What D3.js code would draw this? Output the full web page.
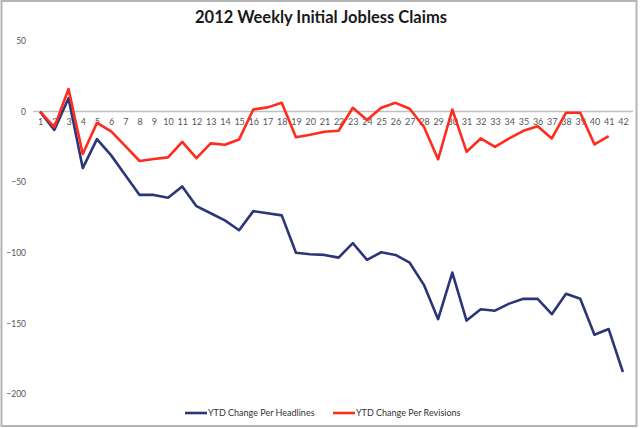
<!DOCTYPE html>
<html>
<head>
<meta charset="utf-8">
<script src="https://cdn.jsdelivr.net/npm/d3@7"></script>
<style>
  html, body { margin: 0; padding: 0; background: #fff; }
  svg { display: block; }
  text { font-family: Lato, "Open Sans", sans-serif; }
</style>
</head>
<body>
<svg id="chart" width="640" height="428"></svg>
<script>
const title = "2012 Weekly Initial Jobless Claims";
const weeks = d3.range(1, 43);
const yTicks = [50, 0, -50, -100, -150, -200];
const seriesNames = ["YTD Change Per Headlines", "YTD Change Per Revisions"];
const headlines = [0, -13, 9.5, -40, -19.5, -31, -45, -59, -59, -61, -53, -67, -72, -77, -84,
  -70.5, -72, -73.5, -100, -101, -101.5, -103.4, -93.2, -105, -99.6, -101.5, -107, -122.7,
  -147, -114, -148, -140, -141, -136, -132.6, -132.6, -143.5, -129, -132.6, -158, -154, -184.4];
const revisions = [0, -11, 16, -30, -8, -14, -24.5, -35, -33.6, -32.4, -21.4, -33, -22.5,
  -23.5, -19.7, 1.5, 3, 6.2, -18.2, -16.4, -14.3, -13.6, 2.7, -6, 2.7, 6.2, 2, -10.7, -33.8,
  1.5, -28.4, -19, -25, -19, -13.6, -10.3, -19, -0.8, -0.8, -23.2, -17.3, null];
const colors = ["#2b3679", "#ff2b1c"];

const svg = d3.select("#chart");

// frame
svg.append("rect").attr("x", 1.5).attr("y", 1).attr("width", 635).attr("height", 425)
  .attr("fill", "#fff").attr("stroke", "#b4b4b4").attr("stroke-width", 2);

const x = d3.scalePoint().domain(weeks).range([33, 630]).padding(0.5);
const y = d3.scaleLinear().domain([-200, 50]).range([394, 41]);

// title
svg.append("text").attr("x", 321).attr("y", 23).attr("text-anchor", "middle")
  .attr("font-size", 16.5).attr("font-weight", "bold").attr("fill", "#1a1a1a").text(title);

// y axis labels
const yAxis = d3.axisLeft(y).tickValues(yTicks).tickSize(0).tickPadding(0);
const gy = svg.append("g").attr("transform", "translate(26,0)").call(yAxis);
gy.select(".domain").remove();
gy.selectAll("text").attr("font-size", 8.5).attr("fill", "#555").style("font-family", "Lato, sans-serif");

// zero line + x labels
const xAxis = d3.axisBottom(x).tickSize(0).tickPadding(7);
const gx = svg.append("g").attr("transform", `translate(0,${y(0)})`).call(xAxis);
gx.select(".domain").attr("stroke", "#c0c0c0").attr("stroke-width", 1.5)
  .attr("d", `M33,0H633`);
gx.selectAll("text").attr("font-size", 9).attr("fill", "#555").style("font-family", "Lato, sans-serif");

const line = d3.line()
  .defined(d => d.v !== null)
  .x(d => x(d.w)).y(d => y(d.v));

[headlines, revisions].forEach((vals, i) => {
  svg.append("path")
    .datum(weeks.map((w, j) => ({ w, v: vals[j] })))
    .attr("fill", "none").attr("stroke", colors[i]).attr("stroke-width", 2.6)
    .attr("stroke-linejoin", "round")
    .attr("d", line);
});

// legend
const legendItems = [{ x: 185, name: seriesNames[0], c: colors[0] }, { x: 333, name: seriesNames[1], c: colors[1] }];
legendItems.forEach(it => {
  svg.append("line").attr("x1", it.x).attr("x2", it.x + 22).attr("y1", 413).attr("y2", 413)
    .attr("stroke", it.c).attr("stroke-width", 2.6);
  svg.append("text").attr("x", it.x + 23).attr("y", 416).attr("font-size", 9)
    .attr("fill", "#333").text(it.name);
});
</script>
</body>
</html>
